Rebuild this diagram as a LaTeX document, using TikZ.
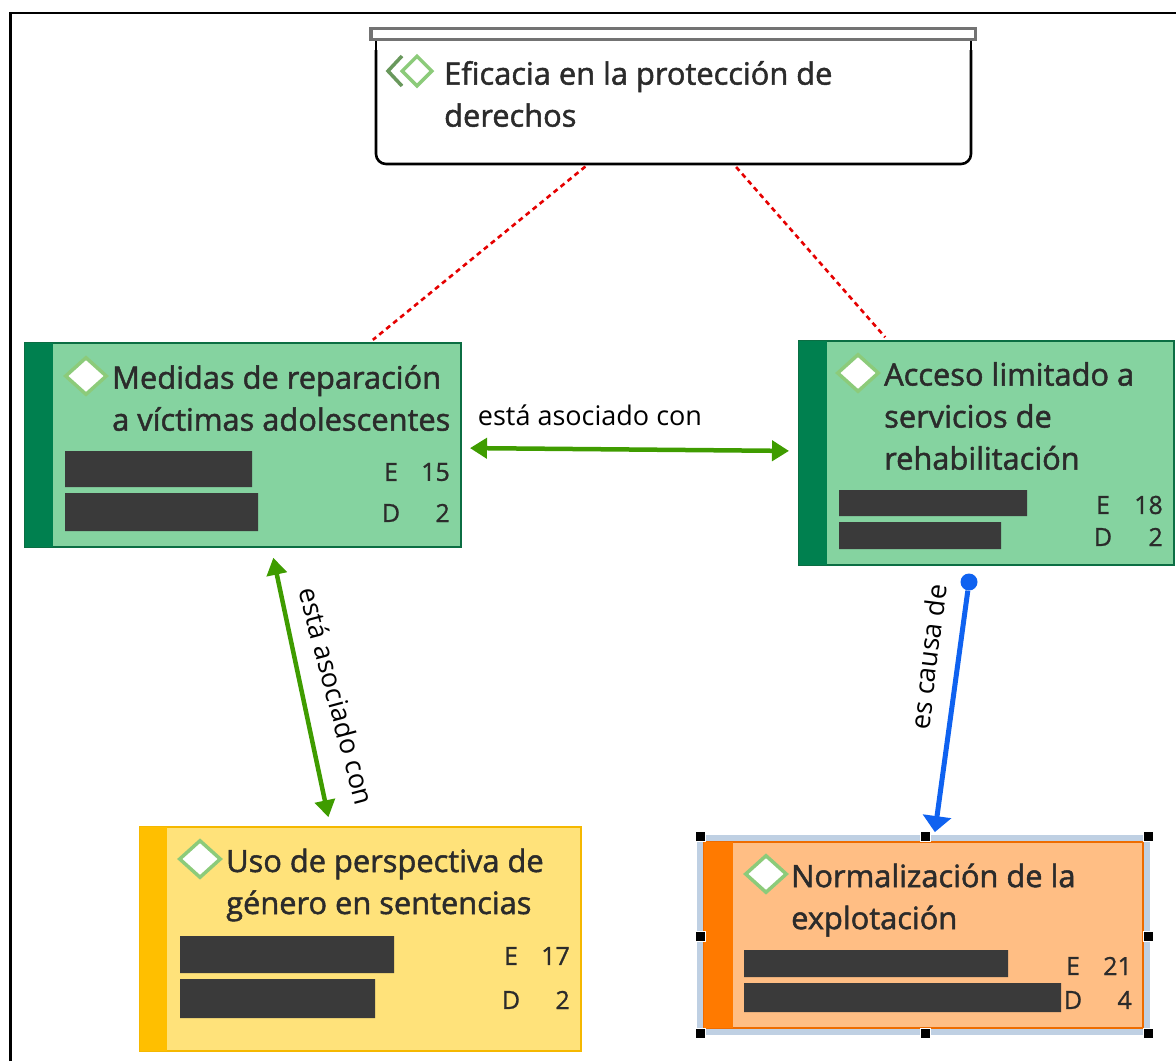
\documentclass[tikz,border=0pt]{standalone}
\usepackage{fontspec}
\setmainfont{Open Sans}
\newfontfamily\heavyfont[FakeBold=1.6]{Open Sans}
\newfontfamily\mediumfont[FakeBold=1]{Open Sans}
\usetikzlibrary{arrows.meta}
\usetikzlibrary{shapes.geometric}
\definecolor{inktext}{HTML}{2B2B2B}
\definecolor{redact}{HTML}{3A3A3A}
\definecolor{greenfill}{HTML}{85D3A0}
\definecolor{greenedge}{HTML}{0B6E43}
\definecolor{greenstripe}{HTML}{00804F}
\definecolor{yellowfill}{HTML}{FFE27A}
\definecolor{yellowedge}{HTML}{F5B800}
\definecolor{yellowstripe}{HTML}{FFBF00}
\definecolor{orangefill}{HTML}{FFBE84}
\definecolor{orangeedge}{HTML}{EE6C00}
\definecolor{orangestripe}{HTML}{FF7A00}
\definecolor{assocgreen}{HTML}{3F9C00}
\definecolor{causeblue}{HTML}{0F62F0}
\definecolor{selectblue}{HTML}{BFD0E3}
\definecolor{icongreen}{HTML}{8CCB7A}
\tikzset{
	code/.style={draw, line width=2.5pt, inner sep=0pt, outer sep=0pt, anchor=north west},
	title/.style={anchor=west, align=left, inner sep=0pt, text=inktext, font=\heavyfont\fontsize{30.8}{42}\selectfont},
	count/.style={inner sep=0pt, text=inktext, font=\mediumfont\fontsize{25}{30}\selectfont},
	link/.style={inner sep=0pt, text=black, font=\fontsize{27}{30}\selectfont},
	redactbar/.style={fill=redact},
	icon/.style={draw=icongreen, fill=white, line width=3.5pt, shape=diamond, minimum width=42pt, minimum height=38pt, inner sep=0pt},
	handle/.style={fill=black, draw=white, line width=1pt, minimum size=10pt, inner sep=0pt, shape=rectangle},
	assoc/.style={draw=assocgreen, line width=4.5pt, {Triangle[length=17pt,width=20pt]}-{Triangle[length=17pt,width=20pt]}},
	cause/.style={draw=causeblue, line width=5pt, -{Triangle[length=16pt,width=28pt]}},
	memo/.style={draw=red!90!black, line width=2.6pt, dash pattern=on 5pt off 4pt},
}
\begin{document}
\begin{tikzpicture}[x=1pt, y=-1pt]
	\useasboundingbox (0,0) rectangle (1176,1061);
	% frame
	\draw[line width=2.5pt] (10.5,1061) -- (10.5,13) -- (1176,13);
	% top box
	\node[code, draw=black, line width=2.6pt, fill=white, rounded corners=10pt, minimum width=595pt, minimum height=135pt] (eficacia) at (376,29) {};
	\fill[white] (370,28) rectangle (976,50);
	\draw[black, line width=2.6pt] (376,40) -- (376,50) (971,40) -- (971,50);
	\draw[draw=black!55, fill=white, line width=3.5pt] (371,28.5) rectangle (975.5,39.5);
	\draw[icongreen!75!black, line width=3.5pt] (402,56) -- (388,71) -- (402,86);
	\node[icon, minimum width=31pt, minimum height=31pt] (eficaciaicon) at (417,71) {};
	\node[title] (eficaciatitle) at (444,94) {Eficacia en la protección de\\derechos};
	% selection round the orange box
	\fill[selectblue] (697,835) rectangle (1150,1035);
	% boxes
	\node[code, draw=greenedge, fill=greenfill, minimum width=436pt, minimum height=204pt] (medidas) at (25,343) {};
	\fill[greenstripe] (25,343) rectangle (53,547);
	\node[code, draw=greenedge, fill=greenfill, minimum width=375pt, minimum height=224pt] (acceso) at (799,341) {};
	\fill[greenstripe] (799,341) rectangle (827,565);
	\node[code, draw=yellowedge, fill=yellowfill, minimum width=441pt, minimum height=224pt] (uso) at (140,827) {};
	\fill[yellowstripe] (140,827) rectangle (167,1051);
	\node[code, draw=orangeedge, fill=orangefill, minimum width=439pt, minimum height=186pt] (normal) at (704,842) {};
	\fill[orangestripe] (704,842) rectangle (733,1028);
	% handles
	\foreach \hx/\hy [count=\i] in {700/836,925/836,1148/836,700/936,1148/936,700/1033,925/1033,1148/1033}
		\node[handle] (handle\i) at (\hx,\hy) {};
	% icons and titles
	\node[icon] (medidasicon) at (86,376) {};
	\node[title] (medidastitle) at (112,398) {Medidas de reparación\\a víctimas adolescentes};
	\node[icon] (accesoicon) at (858,373) {};
	\node[title] (accesotitle) at (884,416) {Acceso limitado a\\servicios de\\rehabilitación};
	\node[icon] (usoicon) at (200,859) {};
	\node[title] (usotitle) at (226,885) {Uso de perspectiva de\\género en sentencias};
	\node[icon] (normalicon) at (766,874) {};
	\node[title] (normaltitle) at (791,900) {Normalización de la\\explotación};
	% bars
	\fill[redactbar] (65,451) rectangle (252,487) (65,493) rectangle (258,531);
	\fill[redactbar] (839,490) rectangle (1027,516) (839,522) rectangle (1001,549);
	\fill[redactbar] (180,936) rectangle (394,973) (180,979) rectangle (375,1018);
	\fill[redactbar] (744,950) rectangle (1008,977) (744,983) rectangle (1061,1012);
	% counts
	\foreach \name/\cx/\rx/\ey/\dy/\e/\d in {medidas/391/450/472/513/15/2, acceso/1103/1163/505/537/18/2, uso/511/570/956/1000/17/2, normal/1073/1132/966/1000/21/4}{
		\node[count] (\name E) at (\cx,\ey) {E};
		\node[count] (\name D) at (\cx,\dy) {D};
		\node[count, anchor=east] (\name En) at (\rx,\ey) {\e};
		\node[count, anchor=east] (\name Dn) at (\rx,\dy) {\d};
	}
	% links
	\draw[memo, shorten <=4pt, shorten >=5pt] ([xshift=-85pt]eficacia.south) -- ([xshift=126pt]medidas.north);
	\draw[memo, shorten <=4pt, shorten >=5pt] ([xshift=60pt]eficacia.south) -- ([xshift=-98pt]acceso.north);
	\draw[assoc, shorten <=9pt, shorten >=10pt] ([yshift=-3pt]medidas.east) -- ([yshift=2pt]acceso.west);
	\draw[assoc, shorten <=11pt, shorten >=10pt] ([xshift=28pt]medidas.south) -- ([xshift=-30pt]uso.north);
	\node[shape=circle, fill=causeblue, minimum size=17pt, inner sep=0pt] (causedot) at (969,582) {};
	\draw[cause, shorten >=10pt] (causedot) -- ([xshift=10pt]normal.north);
	\node[link] (assoclabel) at (590,415) {está asociado con};
	\node[link, rotate=-75] (assoclabeltwo) at (337,696) {está asociado con};
	\node[link, rotate=83] (causelabel) at (928,657) {es causa de};
\end{tikzpicture}
\end{document}
